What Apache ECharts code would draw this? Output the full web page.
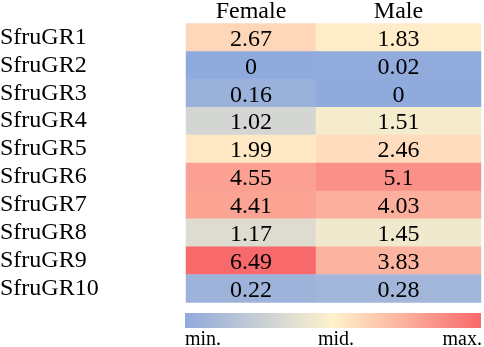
<!DOCTYPE html>
<html>
<head>
<meta charset="utf-8">
<script src="https://cdn.jsdelivr.net/npm/echarts@6/dist/echarts.min.js"></script>
<style>
html,body{margin:0;padding:0;background:#fff;}
#chart{width:484px;height:347px;}
</style>
</head>
<body>
<div id="chart"></div>
<script>
const genes = ['SfruGR1','SfruGR2','SfruGR3','SfruGR4','SfruGR5','SfruGR6','SfruGR7','SfruGR8','SfruGR9','SfruGR10'];
const columns = ['Female','Male'];
const female = [2.67, 0, 0.16, 1.02, 1.99, 4.55, 4.41, 1.17, 6.49, 0.22];
const male = [1.83, 0.02, 0, 1.51, 2.46, 5.1, 4.03, 1.45, 3.83, 0.28];
const legendLabels = ['min.', 'mid.', 'max.'];

const COLOR_MIN = [143, 170, 220];
const COLOR_MID = [255, 242, 204];
const COLOR_MAX = [248, 105, 107];

const all = female.concat(male);
const sorted = all.slice().sort((a, b) => a - b);
const vMin = sorted[0], vMax = sorted[sorted.length - 1];
const rank = 0.5 * (sorted.length - 1);
const lo = Math.floor(rank);
const vMid = sorted[lo] + (sorted[lo + 1] - sorted[lo]) * (rank - lo);

function mix(a, b, t) {
  return 'rgb(' + a.map((c, i) => Math.round(c + (b[i] - c) * t)).join(',') + ')';
}
const N = 120;
const stops = [];
for (let i = 0; i <= N; i++) {
  const v = vMin + (vMax - vMin) * i / N;
  if (v <= vMid) stops.push(mix(COLOR_MIN, COLOR_MID, (v - vMin) / (vMid - vMin)));
  else stops.push(mix(COLOR_MID, COLOR_MAX, (v - vMid) / (vMax - vMid)));
}

const FONT = '"Liberation Serif", "Times New Roman", serif';
const GRID_TOP = 23.5, GRID_H = 279;

const chart = echarts.init(document.getElementById('chart'));

function xAx(i, name) {
  return {
    type: 'category', gridIndex: i, data: [name], position: 'top',
    axisLine: {show: false}, axisTick: {show: false}, splitLine: {show: false},
    axisLabel: {color: '#000', fontFamily: FONT, fontSize: 24, margin: 12, verticalAlign: 'middle'}
  };
}
function yAx(i, showLabel) {
  return {
    type: 'category', gridIndex: i, data: genes, inverse: true,
    axisLine: {show: false}, axisTick: {show: false}, splitLine: {show: false},
    axisLabel: {show: showLabel, interval: 0, color: '#000', fontFamily: FONT, fontSize: 24,
      align: 'left', margin: 186, verticalAlign: 'middle', padding: [3, 0, 0, 0]}
  };
}
function series(i, values) {
  return {
    type: 'heatmap', xAxisIndex: i, yAxisIndex: i,
    data: values.map((v, r) => [0, r, v]),
    label: {show: true, color: '#000', fontFamily: FONT, fontSize: 24, offset: [0, 2],
      formatter: p => String(p.value[2])},
    itemStyle: {borderWidth: 0},
    emphasis: {disabled: true}
  };
}

chart.setOption({
  animation: false,
  grid: [
    {left: 186, top: GRID_TOP, width: 130, height: GRID_H, outerBoundsMode: 'none', containLabel: false},
    {left: 316, top: GRID_TOP, width: 165, height: GRID_H, outerBoundsMode: 'none', containLabel: false}
  ],
  xAxis: [xAx(0, columns[0]), xAx(1, columns[1])],
  yAxis: [yAx(0, true), yAx(1, false)],
  visualMap: {
    show: false, type: 'continuous', min: vMin, max: vMax, dimension: 2,
    seriesIndex: [0, 1], inRange: {color: stops}
  },
  series: [series(0, female), series(1, male)],
  graphic: [
    {type: 'rect', shape: {x: 185, y: 313, width: 296, height: 15},
      style: {fill: new echarts.graphic.LinearGradient(0, 0, 1, 0, [
        {offset: 0, color: mix(COLOR_MIN, COLOR_MIN, 0)},
        {offset: 0.5, color: mix(COLOR_MID, COLOR_MID, 0)},
        {offset: 1, color: mix(COLOR_MAX, COLOR_MAX, 0)}
      ])}},
    {type: 'text', x: 185, y: 340, style: {text: legendLabels[0], font: '20px ' + FONT, fill: '#000', textAlign: 'left', textVerticalAlign: 'middle'}},
    {type: 'text', x: 336, y: 340, style: {text: legendLabels[1], font: '20px ' + FONT, fill: '#000', textAlign: 'center', textVerticalAlign: 'middle'}},
    {type: 'text', x: 482, y: 340, style: {text: legendLabels[2], font: '20px ' + FONT, fill: '#000', textAlign: 'right', textVerticalAlign: 'middle'}}
  ]
});
</script>
</body>
</html>
